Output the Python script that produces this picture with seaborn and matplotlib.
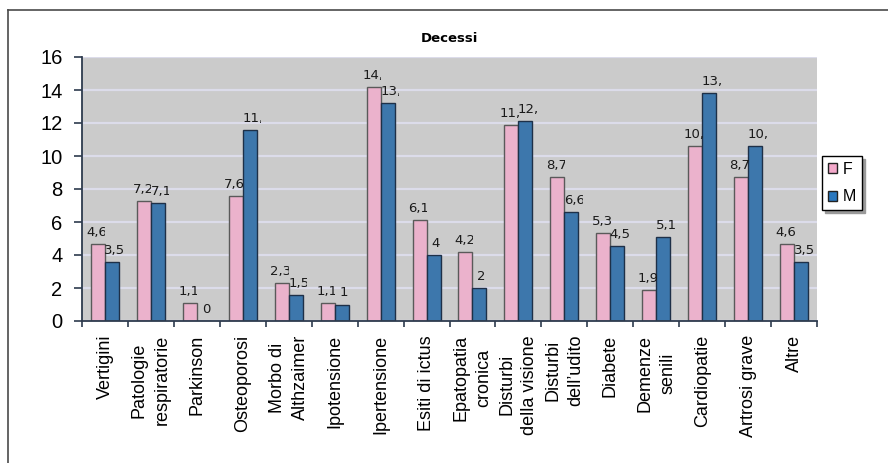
import matplotlib
matplotlib.use("Agg")
import matplotlib.pyplot as plt
from matplotlib.transforms import Bbox
from matplotlib.patches import Patch
from matplotlib.lines import Line2D
import pandas as pd
import seaborn as sns

# --- data -----------------------------------------------------------------
categorie = [
    "Vertigini", "Patologie\nrespiratorie", "Parkinson", "Osteoporosi",
    "Morbo di\nAlthzaimer", "Ipotensione", "Ipertensione", "Esiti di ictus",
    "Epatopatia\ncronica", "Disturbi\ndella visione", "Disturbi\ndell\u2019udito",
    "Diabete", "Demenze\nsenili", "Cardiopatie", "Artrosi grave", "Altre",
]
femmine = [4.65, 7.25, 1.1, 7.6, 2.3, 1.1, 14.2, 6.1, 4.2, 11.85, 8.7, 5.35,
           1.9, 10.6, 8.7, 4.65]
maschi = [3.55, 7.15, 0, 11.6, 1.55, 1, 13.2, 4, 2, 12.15, 6.6, 4.55,
          5.1, 13.8, 10.6, 3.55]
sessi = ["F", "M"]
y_ticks = [0, 2, 4, 6, 8, 10, 12, 14, 16]
titolo = "Decessi"

# --- style ----------------------------------------------------------------
colori = {"F": "#F4A9CB", "M": "#2A78BF"}
bordi = {"F": "#5A5A5A", "M": "#1E3048"}
asse = "#2E3B4E"

plt.rcParams["font.family"] = ["Liberation Sans", "DejaVu Sans"]

df = pd.DataFrame({
    "Categoria": categorie * 2,
    "Sesso": ["F"] * len(categorie) + ["M"] * len(categorie),
    "Decessi": femmine + maschi,
})

W, H = 888, 463
fig = plt.figure(figsize=(W / 100, H / 100), dpi=100)
fig.patch.set_facecolor("white")
ax = fig.add_axes([82 / W, 1 - 321 / H, (817 - 82) / W, (321 - 57) / H])
ax.set_facecolor("#CBCBCB")

sns.barplot(data=df, x="Categoria", y="Decessi", hue="Sesso", hue_order=sessi,
            palette=colori, width=0.61, gap=0, errorbar=None, legend=False,
            linewidth=1.0, ax=ax)

for cont, s in zip(ax.containers, sessi):
    for bar in cont:
        bar.set_edgecolor(bordi[s])
        bar.set_linewidth(1.0)

ax.set_xlim(-0.5, len(categorie) - 0.5)
ax.set_ylim(0, 16)
ax.set_yticks(y_ticks)
ax.set_yticklabels([str(t) for t in y_ticks], fontsize=14.5)
ax.set_xlabel("")
ax.set_ylabel("")

ax.yaxis.grid(True, color="#DCDCEA", linewidth=1.6)
ax.xaxis.grid(False)
ax.set_axisbelow(True)

for side in ("top", "right"):
    ax.spines[side].set_visible(False)
for side in ("left", "bottom"):
    ax.spines[side].set_color(asse)
    ax.spines[side].set_linewidth(1.3)

ax.tick_params(axis="y", direction="out", length=6, width=1.2, color=asse,
               pad=8, labelcolor="black")
ax.set_xticks(range(len(categorie)))
ax.set_xticklabels(categorie, rotation=90, fontsize=13, ha="center",
                   va="top", multialignment="center", linespacing=1.45)
ax.tick_params(axis="x", which="major", length=0, pad=10)
ax.set_xticks([i - 0.5 for i in range(len(categorie) + 1)], minor=True)
ax.tick_params(axis="x", which="minor", direction="out", length=4.5,
               width=1.2, color=asse)


def etichetta(v):
    s = f"{v:.2f}".rstrip("0").rstrip(".")
    return s.replace(".", ",")


# value labels: each one sits in a narrow box centred above its bar,
# so longer numbers are cut at the box edge
BOX = 19
spostamento = {"F": -2, "M": 2}
renderer = fig.canvas.get_renderer()
for cont, valori, s in zip(ax.containers, (femmine, maschi), sessi):
    for bar, v in zip(cont, valori):
        cx = bar.get_x() + bar.get_width() / 2
        t = ax.annotate(etichetta(v), xy=(cx, v), xytext=(0, 5),
                        textcoords="offset pixels", ha="left", va="bottom",
                        fontsize=9.5, family="DejaVu Sans", color="#1A1A1A",
                        annotation_clip=False)
        w = t.get_window_extent(renderer).width
        dx = -min(w, BOX) / 2 + spostamento[s]
        t.xyann = (dx, 5)
        px, _ = ax.transData.transform((cx, v))
        left = px + dx
        t.set_clip_path(None)
        t.set_clip_box(Bbox([[left, 0], [left + BOX, H]]))
        t.set_clip_on(True)

fig.text((82 + 817) / 2 / W, 1 - 39 / H, titolo, ha="center", va="center",
         fontsize=9.5, fontweight="bold", family="DejaVu Sans")

maniglie = [Patch(facecolor=colori[s], edgecolor="#222222", linewidth=1.0)
            for s in sessi]
leg = ax.legend(maniglie, sessi, loc="upper left",
                bbox_to_anchor=(822 / W, 1 - 156 / H),
                bbox_transform=fig.transFigure, frameon=True, fancybox=False,
                shadow={"ox": 2, "oy": -2, "color": "#9A9A9A", "alpha": 1},
                borderpad=0.35, handlelength=0.6, handleheight=0.6,
                handletextpad=0.35, labelspacing=0.8, fontsize=11.5,
                borderaxespad=0)
leg.get_frame().set_edgecolor("black")
leg.get_frame().set_linewidth(1.0)

# outer chart border (top and left edges)
fig.add_artist(Line2D([8 / W, 8 / W], [0, 1 - 10 / H], transform=fig.transFigure,
                      color="#4A4A4A", linewidth=1.2))
fig.add_artist(Line2D([8 / W, 1], [1 - 10 / H, 1 - 10 / H],
                      transform=fig.transFigure, color="#4A4A4A", linewidth=1.2))

fig.savefig("out.png", dpi=100, facecolor="white")
